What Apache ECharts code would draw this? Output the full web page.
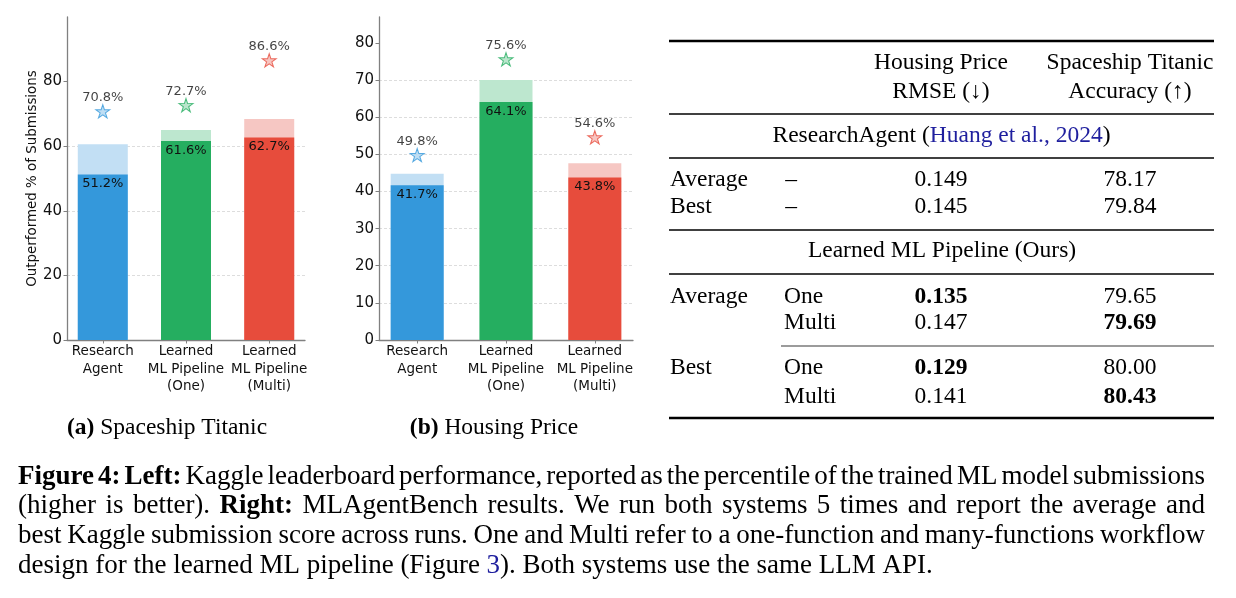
<!DOCTYPE html>
<html lang="en">
<head>
<meta charset="UTF-8">
<title>Figure 4</title>
<script src="https://cdn.jsdelivr.net/npm/echarts@6/dist/echarts.min.js"></script>
<style>html, body { margin: 0; padding: 0; background: #fff; }</style>
</head>
<body>
<div id="main" style="width: 1236px; height: 598px;"></div>
<script type="text/javascript">
// ---- data ----
var categories = ['Research\nAgent', 'Learned\nML Pipeline\n(One)', 'Learned\nML Pipeline\n(Multi)'];

// (a) Spaceship Titanic: dark bar, light bar top, star
var titanicAvg = [51.2, 61.6, 62.7];
var titanicTop = [60.6, 65.0, 68.4];
var titanicBest = [70.8, 72.7, 86.6];

// (b) Housing Price
var housingAvg = [41.7, 64.1, 43.8];
var housingTop = [44.8, 70.0, 47.6];
var housingBest = [49.8, 75.6, 54.6];

var titanicTicks = [0, 20, 40, 60, 80];
var housingTicks = [0, 10, 20, 30, 40, 50, 60, 70, 80];

// table
var tableCols = ['Housing Price', 'Spaceship Titanic'];
var tableMetrics = ['RMSE (↓)', 'Accuracy (↑)'];
var baselineRows = ['Average', 'Best'];
var baselineRmse = ['0.149', '0.145'];
var baselineAcc = ['78.17', '79.84'];
var oursGroup = ['Average', '', 'Best', ''];
var oursVariant = ['One', 'Multi', 'One', 'Multi'];
var oursRmse = ['0.135', '0.147', '0.129', '0.141'];
var oursAcc = ['79.65', '79.69', '80.00', '80.43'];
var oursRmseBold = [true, false, true, false];
var oursAccBold = [false, true, false, true];

// caption, one entry per printed line ('b' bold, 'l' link colour)
var captionLines = [
    [['Figure 4: Left:', 'b'], [' Kaggle leaderboard performance, reported as the percentile of the trained ML model submissions']],
    [['(higher is better). '], ['Right:', 'b'], [' MLAgentBench results. We run both systems 5 times and report the average and']],
    [['best Kaggle submission score across runs. One and Multi refer to a one-function and many-functions workflow']],
    [['design for the learned ML pipeline (Figure '], ['3', 'l'], ['). Both systems use the same LLM API.']]
];

// ---- styling ----
var darkColors = ['#3498db', '#25ae60', '#e74c3c'];
var lightColors = ['#c2dff4', '#bde7cf', '#f6c7c3'];
var starFill = ['#aed6f1', '#a9dfbf', '#f5b7b1'];
var LINK = '#1f1f9e';
var SANS = 'DejaVu Sans';
var SERIF = 'Liberation Serif';
var STAR = 'path://M50,0L61.17,34.63L97.55,34.55L68.07,55.87L79.39,90.45L50,69L20.61,90.45L31.93,55.87L2.45,34.55L38.83,34.63Z';

var ctx2d = document.createElement('canvas').getContext('2d');
function measure(t, st, size) {
    ctx2d.font = (st === 'b' ? 'bold ' : '') + size + 'px "' + SERIF + '"';
    return ctx2d.measureText(t).width;
}
function textEl(t, x, y, size, st, align) {
    return {
        type: 'text', x: x, y: y, silent: true,
        style: {
            text: t, fontFamily: SERIF, fontSize: size,
            fontWeight: st === 'b' ? 'bold' : 'normal',
            fill: st === 'l' ? LINK : '#000',
            textAlign: align || 'left', textVerticalAlign: 'middle',
            align: align || 'left', verticalAlign: 'middle'
        }
    };
}
// several styled pieces laid side by side
function runs(segs, x, y, size, align) {
    var ws = segs.map(function (s) { return measure(s[0], s[1], size); });
    var total = ws.reduce(function (a, b) { return a + b; }, 0);
    var cur = align === 'center' ? x - total / 2 : x;
    return segs.map(function (s, i) {
        var el = textEl(s[0], cur, y, size, s[1], 'left');
        cur += ws[i];
        return el;
    });
}
function rule(y, x1, x2, w, color) {
    return {type: 'line', silent: true, shape: {x1: x1, y1: y, x2: x2, y2: y},
        style: {stroke: color || '#000', lineWidth: w}};
}

// ---- table ----
var T = {left: 669, right: 1214, c1: 670, c2: 784, c3: 941, c4: 1130, size: 23.5};
var graphics = [];
graphics.push(rule(41, T.left, T.right, 2.6));
graphics.push(rule(114, T.left, T.right, 1.5));
graphics.push(rule(158, T.left, T.right, 1.5));
graphics.push(rule(230, T.left, T.right, 1.5));
graphics.push(rule(274, T.left, T.right, 1.5));
graphics.push(rule(346, 781, T.right, 1.3, '#7a7a7a'));
graphics.push(rule(418, T.left, T.right, 2.6));

graphics.push(textEl(tableCols[0], T.c3, 63, T.size, '', 'center'));
graphics.push(textEl(tableMetrics[0], T.c3, 92, T.size, '', 'center'));
graphics.push(textEl(tableCols[1], T.c4, 63, T.size, '', 'center'));
graphics.push(textEl(tableMetrics[1], T.c4, 92, T.size, '', 'center'));

graphics = graphics.concat(runs([['ResearchAgent ('], ['Huang et al., 2024', 'l'], [')']], 941.5, 136, T.size, 'center'));
var baseY = [180, 207];
baselineRows.forEach(function (name, i) {
    graphics.push(textEl(name, T.c1, baseY[i], T.size, '', 'left'));
    graphics.push(textEl('–', 791, baseY[i], T.size, '', 'center'));
    graphics.push(textEl(baselineRmse[i], T.c3, baseY[i], T.size, '', 'center'));
    graphics.push(textEl(baselineAcc[i], T.c4, baseY[i], T.size, '', 'center'));
});

graphics.push(textEl('Learned ML Pipeline (Ours)', 942, 251, T.size, '', 'center'));
var oursY = [297, 323, 368, 397];
oursVariant.forEach(function (v, i) {
    if (oursGroup[i]) graphics.push(textEl(oursGroup[i], T.c1, oursY[i], T.size, '', 'left'));
    graphics.push(textEl(v, T.c2, oursY[i], T.size, '', 'left'));
    graphics.push(textEl(oursRmse[i], T.c3, oursY[i], T.size, oursRmseBold[i] ? 'b' : '', 'center'));
    graphics.push(textEl(oursAcc[i], T.c4, oursY[i], T.size, oursAccBold[i] ? 'b' : '', 'center'));
});

// ---- sub-figure labels ----
graphics = graphics.concat(runs([['(a)', 'b'], [' Spaceship Titanic']], 167, 428, 23.5, 'center'));
graphics = graphics.concat(runs([['(b)', 'b'], [' Housing Price']], 494, 428, 23.5, 'center'));

// ---- caption, justified ----
var CAP = {left: 18, right: 1205, size: 27, y: [477, 506, 536, 566]};
captionLines.forEach(function (segs, li) {
    var words = [[]];
    segs.forEach(function (seg) {
        seg[0].split(/(\s+)/).forEach(function (p) {
            if (p === '') return;
            if (/^\s+$/.test(p)) {
                if (words[words.length - 1].length) words.push([]);
            } else {
                words[words.length - 1].push([p, seg[1] || '']);
            }
        });
    });
    if (!words[words.length - 1].length) words.pop();
    var widths = words.map(function (w) {
        return w.reduce(function (s, seg) { return s + measure(seg[0], seg[1], CAP.size); }, 0);
    });
    var sum = widths.reduce(function (a, b) { return a + b; }, 0);
    var last = li === captionLines.length - 1;
    var gap = last ? measure(' ', '', CAP.size) : (CAP.right - CAP.left - sum) / (words.length - 1);
    var x = CAP.left;
    words.forEach(function (w) {
        w.forEach(function (seg) {
            graphics.push(textEl(seg[0], x, CAP.y[li], CAP.size, seg[1], 'left'));
            x += measure(seg[0], seg[1], CAP.size);
        });
        x += gap;
    });
});

// ---- charts ----
function xAxisFor(i) {
    return {
        gridIndex: i, type: 'value', min: -0.43, max: 2.43,
        axisLine: {show: true, onZero: false, lineStyle: {color: '#808080', width: 1.3}},
        axisTick: {show: true, customValues: [0, 1, 2], length: 3.5, lineStyle: {color: '#808080'}},
        axisLabel: {
            customValues: [0, 1, 2],
            formatter: function (v) { return categories[v]; },
            fontFamily: SANS, fontSize: 13.5, lineHeight: 17.5, color: '#111', margin: 3
        },
        splitLine: {show: false}
    };
}
function yAxisFor(i, max, step, ticks, name) {
    return {
        gridIndex: i, type: 'value', min: 0, max: max, interval: step,
        name: name, nameLocation: 'middle', nameGap: 24,
        nameTextStyle: {fontFamily: SANS, fontSize: 13.4, color: '#111'},
        axisLine: {show: true, onZero: false, lineStyle: {color: '#808080', width: 1.3}},
        axisTick: {show: true, customValues: ticks, length: 3.5, lineStyle: {color: '#808080'}},
        axisLabel: {customValues: ticks, fontFamily: SANS, fontSize: 15, color: '#111', margin: 5},
        splitLine: {show: true, showMinLine: false, showMaxLine: false,
            lineStyle: {color: '#d4d4d4', type: [3, 2], width: 0.8}}
    };
}
function seriesFor(i, top, avg, best, bw) {
    var pct = function (p) { return p.value[1].toFixed(1) + '%'; };
    return [
        {
            type: 'bar', xAxisIndex: i, yAxisIndex: i, barWidth: bw, barGap: '-100%', z: 2,
            data: top.map(function (v, k) { return {value: [k, v], itemStyle: {color: lightColors[k]}}; })
        },
        {
            type: 'bar', xAxisIndex: i, yAxisIndex: i, barWidth: bw, barGap: '-100%', z: 3,
            data: avg.map(function (v, k) { return {value: [k, v], itemStyle: {color: darkColors[k]}}; }),
            label: {show: true, position: 'insideTop', distance: 3, formatter: pct,
                fontFamily: SANS, fontSize: 13, color: '#111'}
        },
        {
            type: 'scatter', xAxisIndex: i, yAxisIndex: i, symbol: STAR, symbolSize: [14, 13.3], z: 4,
            data: best.map(function (v, k) {
                return {value: [k, v], itemStyle: {color: starFill[k], borderColor: darkColors[k], borderWidth: 1}};
            }),
            label: {show: true, position: 'top', distance: 0, formatter: pct,
                fontFamily: SANS, fontSize: 13, color: '#111'}
        }
    ];
}

var myChart = echarts.init(document.getElementById('main'));
var option = {
    backgroundColor: '#fff',
    animation: false,
    grid: [
        {left: 67, top: 17, width: 238, height: 323},
        {left: 379, top: 17, width: 254, height: 323}
    ],
    xAxis: [xAxisFor(0), xAxisFor(1)],
    yAxis: [
        yAxisFor(0, 100, 20, titanicTicks, 'Outperformed % of Submissions'),
        yAxisFor(1, 87, 10, housingTicks, '')
    ],
    series: seriesFor(0, titanicTop, titanicAvg, titanicBest, 50)
        .concat(seriesFor(1, housingTop, housingAvg, housingBest, 53)),
    graphic: graphics
};
myChart.setOption(option);
</script>
</body>
</html>
